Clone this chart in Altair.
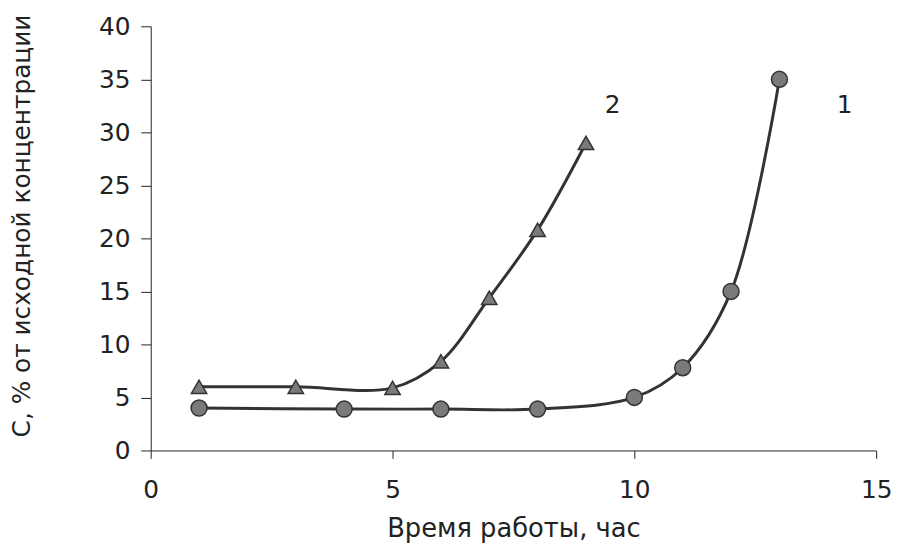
import altair as alt
import pandas as pd

# Series 1 (circles)
x1 = [1, 4, 6, 8, 10, 11, 12, 13]
y1 = [4.0, 3.9, 3.9, 3.9, 5.0, 7.8, 15.0, 35.0]
# Series 2 (triangles)
x2 = [1, 3, 5, 6, 7, 8, 9]
y2 = [6.0, 6.0, 5.9, 8.4, 14.4, 20.8, 29.0]

label_text = ["2", "1"]
label_x = [9.55, 14.35]
label_y = [32.6, 32.6]

df1 = pd.DataFrame({"x": x1, "y": y1})
df2 = pd.DataFrame({"x": x2, "y": y2})
dfl = pd.DataFrame({"x": label_x, "y": label_y, "t": label_text})

FONT = "DejaVu Sans"
LINE = "#333333"
FILL = "#7a7a7a"
TXT = "#222222"

xs = alt.Scale(domain=[0, 15], nice=False, zero=False)
ys = alt.Scale(domain=[0, 40], nice=False)

xax = alt.Axis(values=[0, 5, 10, 15], title="Время работы, час", grid=False,
               tickSize=8, labelPadding=19, labelFontSize=25, titleFontSize=26,
               titlePadding=14, labelFont=FONT, titleFont=FONT,
               labelColor=TXT, titleColor=TXT, domainColor=TXT,
               tickColor=TXT, titleFontWeight="normal", labelFlush=False)
yax = alt.Axis(values=[0, 5, 10, 15, 20, 25, 30, 35, 40],
               title="С,  % от исходной концентрации", grid=False,
               tickSize=10, labelPadding=11, labelFontSize=25, titleFontSize=25,
               titlePadding=64, titleY=201, labelFont=FONT, titleFont=FONT,
               labelColor=TXT, titleColor=TXT, domainColor=TXT,
               tickColor=TXT, titleFontWeight="normal")

X = alt.X("x:Q", scale=xs, axis=xax)
Y = alt.Y("y:Q", scale=ys, axis=yax)
Xn = alt.X("x:Q", scale=xs)
Yn = alt.Y("y:Q", scale=ys)

line1 = alt.Chart(df1).mark_line(color=LINE, strokeWidth=3, interpolate="catmull-rom").encode(x=X, y=Y)
pts1 = alt.Chart(df1).mark_point(shape="circle", size=260, filled=True, fill=FILL,
                                 stroke=LINE, strokeWidth=1.5, opacity=1).encode(x=Xn, y=Yn)
line2 = alt.Chart(df2).mark_line(color=LINE, strokeWidth=3, interpolate="catmull-rom").encode(x=Xn, y=Yn)
pts2 = alt.Chart(df2).mark_point(shape="triangle-up", size=240, filled=True, fill=FILL,
                                 stroke=LINE, strokeWidth=1.5, opacity=1).encode(x=Xn, y=Yn)
labels = alt.Chart(dfl).mark_text(fontSize=25, font=FONT, color=TXT).encode(
    x=Xn, y=Yn, text="t:N")

chart = alt.layer(line1, line2, pts1, pts2, labels).properties(
    width=732, height=428,
    autosize=alt.AutoSizeParams(type="none"),
    padding={"left": 144, "top": 16, "right": 17, "bottom": 100},
).configure_view(stroke=None)

chart.save("out.html", embed_options={"renderer": "svg", "actions": False})
